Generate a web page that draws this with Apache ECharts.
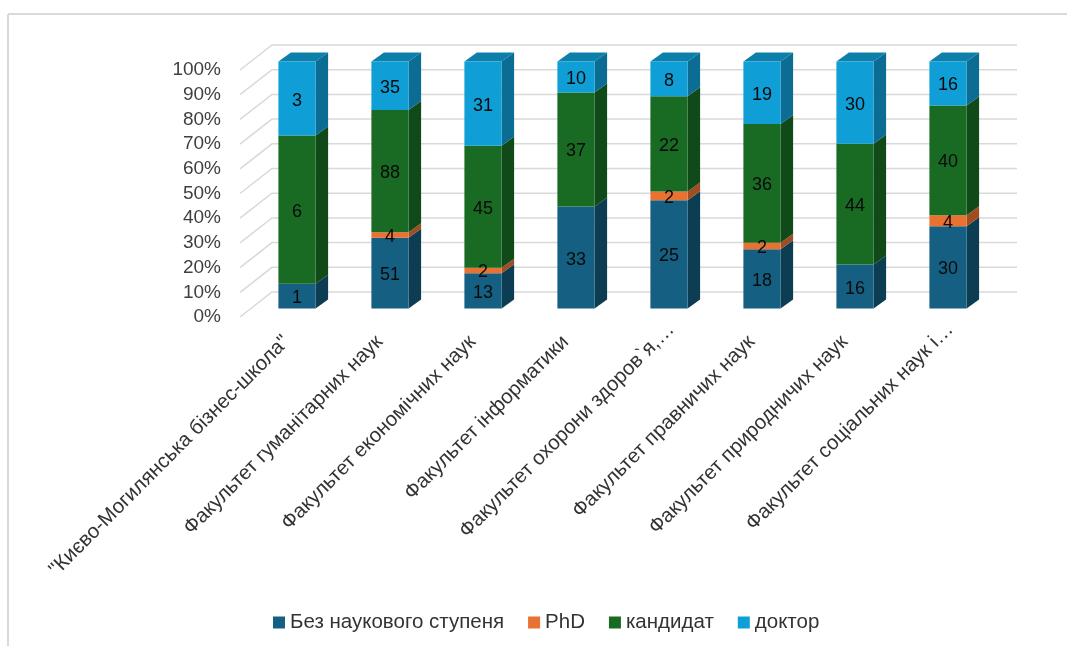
<!DOCTYPE html>
<html>
<head>
<meta charset="utf-8">
<style>html,body{margin:0;padding:0;background:#fff}#c{width:1067px;height:646px}</style>
<script src="https://cdn.jsdelivr.net/npm/echarts@6/dist/echarts.min.js"></script>
</head>
<body>
<div id="c"></div>
<script>
const categories = ['"Києво-Могилянська бізнес-школа"','Факультет гуманітарних наук','Факультет економічних наук','Факультет інформатики','Факультет охорони здоров`я,…','Факультет правничих наук','Факультет природничих наук','Факультет соціальних наук і…'];
const noDegree  = [1, 51, 13, 33, 25, 18, 16, 30];
const phd       = [0, 4, 2, 0, 2, 2, 0, 4];
const candidate = [6, 88, 45, 37, 22, 36, 44, 40];
const doctor    = [3, 35, 31, 10, 8, 19, 30, 16];
const yTicks    = [0, 10, 20, 30, 40, 50, 60, 70, 80, 90, 100];

const FONT = '"Liberation Sans", Arial, sans-serif';
const seriesDefs = [
  {name:'Без наукового ступеня', values:noDegree,  front:'#156082', side:'#0c3d53', top:'#156082'},
  {name:'PhD',                   values:phd,       front:'#E97132', side:'#a04d22', top:'#E97132'},
  {name:'кандидат',              values:candidate, front:'#196B24', side:'#114a19', top:'#196B24'},
  {name:'доктор',                values:doctor,    front:'#0F9ED5', side:'#0b6d93', top:'#0c7fab'}
];
const totals = categories.map((_, i) => seriesDefs.reduce((s, d) => s + d.values[i], 0));

function stackRows(k) {
  return categories.map((_, i) => {
    let below = 0;
    for (let j = 0; j < k; j++) below += seriesDefs[j].values[i];
    const v = seriesDefs[k].values[i];
    return [i, below / totals[i] * 100, (below + v) / totals[i] * 100, v];
  });
}

const wallDepth = [32, -25];
const barShift = [11, -8.5];
const barDepth = [12.5, -9];

function wallItem(params, api) {
  const cs = params.coordSys;
  const y = api.coord([0, api.value(1)])[1];
  return {
    type: 'polyline',
    shape: {points: [[cs.x, y], [cs.x + wallDepth[0], y + wallDepth[1]], [cs.x + cs.width + wallDepth[0] + 1, y + wallDepth[1]]]},
    style: {stroke: '#d9d9d9', lineWidth: 1.5, fill: null},
    silent: true
  };
}

function barItem(def) {
  return function (params, api) {
    const v = api.value(3);
    if (!v) return null;
    const i = api.value(0);
    const a = api.coord([i, api.value(1)]);
    const b = api.coord([i, api.value(2)]);
    const half = api.size([1, 0])[0] * 0.2;
    const cx = a[0] + barShift[0] - 0.5;
    const x0 = cx - half, x1 = cx + half;
    const yB = a[1] + barShift[1], yT = b[1] + barShift[1];
    const dx = barDepth[0], dy = barDepth[1];
    const kids = [
      {type:'polygon', shape:{points:[[x1,yB],[x1+dx,yB+dy],[x1+dx,yT+dy],[x1,yT]]}, style:{fill:def.side}},
      {type:'polygon', shape:{points:[[x0,yT],[x0+dx,yT+dy],[x1+dx,yT+dy],[x1,yT]]}, style:{fill:def.top}, invisible: def.name !== 'доктор'},
      {type:'rect', shape:{x:x0, y:yT, width:x1-x0, height:yB-yT}, style:{fill:def.front}},
      {type:'text', z2:100, style:{text:String(v), x:cx, y:(yB+yT)/2 + 2, align:'center', verticalAlign:'middle', fill:'#0a0a0a', font:'18px ' + FONT}}
    ];
    return {type:'group', children:kids};
  };
}

const xData = categories.map(c => c.endsWith('…') ? {value: c, textStyle: {padding: [0, -18, 0, 0]}} : c);

const option = {
  animation: false,
  backgroundColor: '#fff',
  textStyle: {fontFamily: FONT},
  graphic: [
    {type:'line', shape:{x1:8, y1:14, x2:1067, y2:14}, style:{stroke:'#d9d9d9', lineWidth:2}, silent:true},
    {type:'line', shape:{x1:8, y1:14, x2:8, y2:646}, style:{stroke:'#d9d9d9', lineWidth:2}, silent:true}
  ],
  grid: {left: 240, top: 70, width: 744, height: 247, containLabel: false},
  legend: {
    data: seriesDefs.map(d => ({name: d.name, itemStyle: {color: d.front}})),
    left: 273, top: 612, padding: 0, itemWidth: 12, itemHeight: 12, itemGap: 24,
    icon: 'rect',
    textStyle: {fontSize: 20.5, color: '#333', fontFamily: FONT}
  },
  xAxis: {
    type: 'category', data: xData,
    axisLine: {show:false}, axisTick: {show:false}, splitLine:{show:false},
    axisLabel: {interval:0, rotate:45, margin:22, fontSize:20.4, color:'#333', fontFamily:FONT, hideOverlap:false}
  },
  yAxis: {
    type: 'value', min: 0, max: 100, interval: 10,
    axisLine: {show:false}, axisTick: {show:false}, splitLine:{show:false},
    axisLabel: {margin:19, fontSize:19, color:'#3f3f3f', fontFamily:FONT, formatter:'{value}%'}
  },
  series: [
    {type:'custom', silent:true, legendHoverLink:false, renderItem:wallItem, data:yTicks.map(t => [0, t]), encode:{x:0, y:1}, z:1, tooltip:{show:false}}
  ].concat(seriesDefs.map((d, k) => ({
    type:'custom', name:d.name, renderItem:barItem(d), data:stackRows(k),
    encode:{x:0, y:[1,2]}, itemStyle:{color:d.front}, z:2
  })))
};
const chart = echarts.init(document.getElementById('c'), null, {renderer:'canvas'});
chart.setOption(option);
</script>
</body>
</html>
